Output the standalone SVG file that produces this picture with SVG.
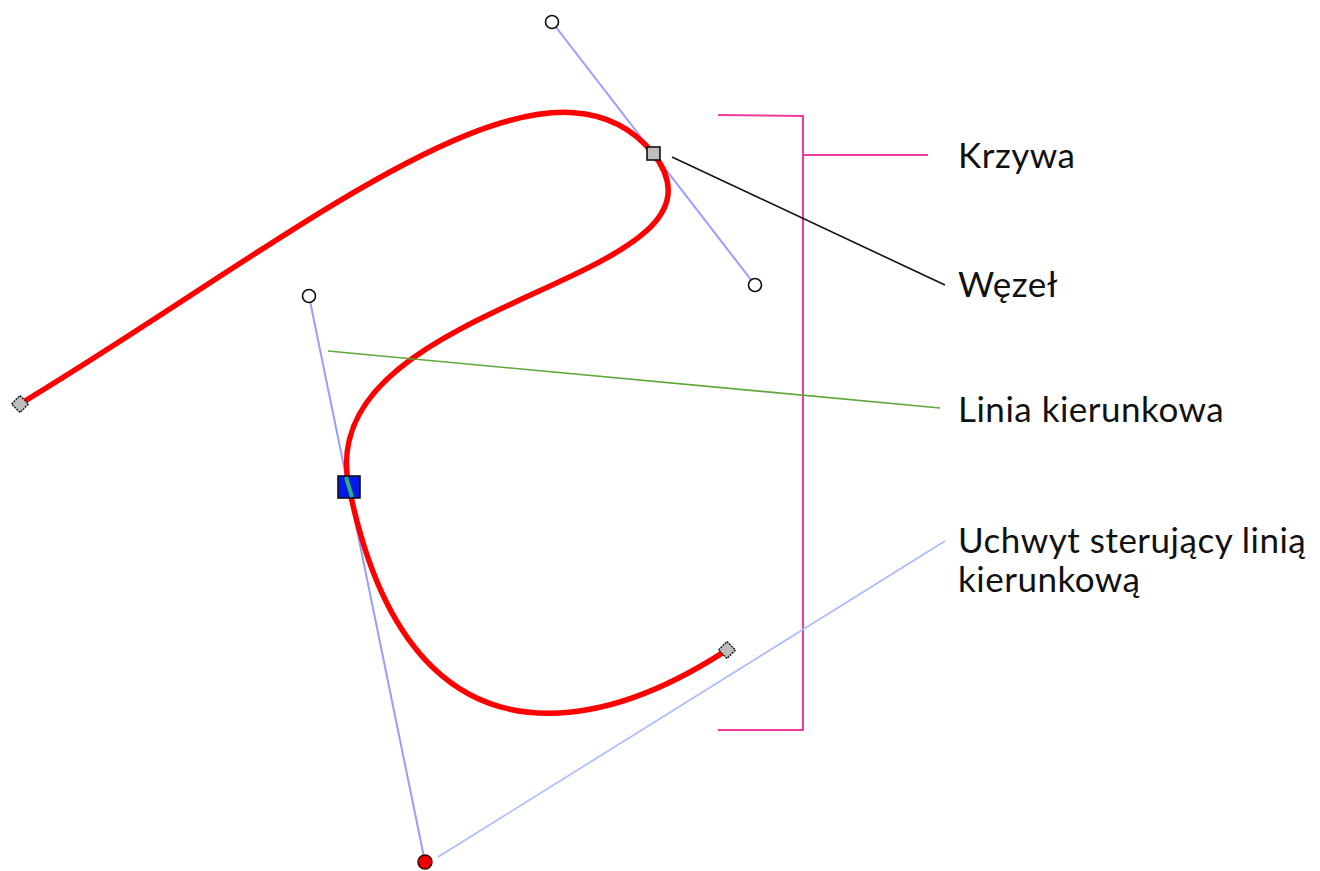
<svg xmlns="http://www.w3.org/2000/svg" width="1320" height="871" viewBox="0 0 1320 871">
  <style>
    .label { font-family: Lato, "Noto Sans", "Liberation Sans", sans-serif; font-size: 35px; letter-spacing: 0.5px; fill: #111; }
    .handle { stroke: #9a9cff; stroke-width: 2; fill: none; }
    .knob { fill: #fff; stroke: #111; stroke-width: 1.6; }
    .bracket { stroke: #f23a9c; stroke-width: 2; fill: none; }
    .endpt { fill: #bdbdbd; stroke: #222; stroke-width: 1.5; stroke-dasharray: 2 1; }
  </style>
  <rect width="1320" height="871" fill="#fff"/>

  <!-- control handles -->
  <g id="handles">
    <line class="handle" x1="552" y1="22" x2="755" y2="285"/>
    <line class="handle" x1="309" y1="296" x2="425" y2="862"/>
  </g>

  <!-- the Bezier curve -->
  <g id="curve">
    <path d="M20,404 C300,235 545,22 653,153 C755,285 309,296 349,487 C425,862 710,660 727,650"
          fill="none" stroke="#ff0000" stroke-width="5.5" stroke-linecap="round"/>
  </g>

  <!-- nodes and handle knobs -->
  <g id="node-start">
    <rect class="endpt" x="14" y="398" width="12" height="12" transform="rotate(45 20 404)"/>
  </g>
  <g id="node-end">
    <rect class="endpt" x="721" y="644" width="12" height="12" transform="rotate(45 727 650)"/>
  </g>
  <g id="node-top">
    <rect x="647" y="147" width="13" height="13" fill="#bdbdbd" stroke="#111" stroke-width="1.6"/>
  </g>
  <g id="node-selected">
    <rect x="338" y="476" width="22" height="22" fill="#0018e8" stroke="#111" stroke-width="1.6"/>
    <line x1="346" y1="477" x2="352" y2="497" stroke="#2fb07a" stroke-width="4"/>
  </g>
  <g id="knobs">
    <circle class="knob" cx="552" cy="22" r="6.5"/>
    <circle class="knob" cx="755" cy="285" r="6.5"/>
    <circle class="knob" cx="309" cy="296" r="6.5"/>
    <circle cx="425" cy="862" r="7" fill="#ee0000" stroke="#400" stroke-width="1.5"/>
  </g>

  <!-- callout connectors -->
  <g id="connectors">
    <path class="bracket" d="M718,115 L803,116 L803,730 L718,730"/>
    <line class="bracket" x1="803" y1="155" x2="928" y2="155"/>
    <line x1="672" y1="157" x2="945" y2="285" stroke="#111" stroke-width="1.6"/>
    <line x1="328" y1="351" x2="940" y2="408" stroke="#5ea83a" stroke-width="1.6"/>
    <line x1="438" y1="857" x2="945" y2="541" stroke="#a6bcff" stroke-width="1.6"/>
  </g>

  <!-- labels -->
  <g id="labels">
    <text class="label" x="958" y="168">Krzywa</text>
    <text class="label" x="958" y="297">Węzeł</text>
    <text class="label" x="958" y="422">Linia kierunkowa</text>
    <text class="label" x="958" y="553">Uchwyt sterujący linią</text>
    <text class="label" x="958" y="592">kierunkową</text>
  </g>
</svg>
